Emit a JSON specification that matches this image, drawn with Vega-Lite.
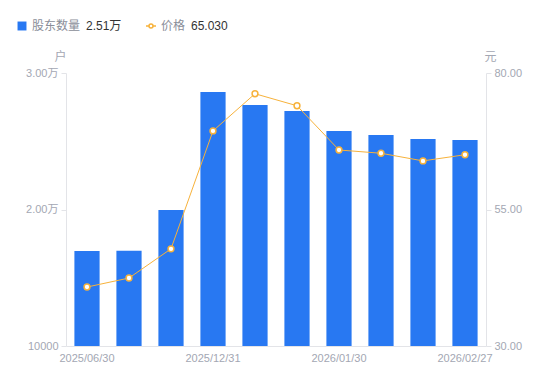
{
  "$schema": "https://vega.github.io/schema/vega-lite/v6.json",
  "autosize": {"type": "none"},
  "padding": {"left": 66, "top": 73, "right": 64, "bottom": 35},
  "width": 420,
  "height": 273,
  "config": {
    "font": "'Liberation Sans', 'Noto Sans CJK SC', sans-serif",
    "view": {"stroke": null},
    "axis": {
      "labelColor": "#a3a7b3",
      "labelFontSize": 11,
      "domainColor": "#e3e4e8",
      "tickColor": "#e3e4e8",
      "grid": false,
      "titleColor": "#a3a7b3",
      "titleFontWeight": "normal",
      "titleFontSize": 12
    }
  },
  "data": {
    "values": [
      {"date": "2025/06/30", "holders": 16960, "price": 40.8},
      {"date": "2025/09/30", "holders": 16970, "price": 42.45},
      {"date": "2025/12/10", "holders": 19960, "price": 47.8},
      {"date": "2025/12/31", "holders": 28600, "price": 69.4},
      {"date": "2026/01/09", "holders": 27660, "price": 76.2},
      {"date": "2026/01/20", "holders": 27220, "price": 74.0},
      {"date": "2026/01/30", "holders": 25750, "price": 65.9},
      {"date": "2026/02/10", "holders": 25460, "price": 65.3},
      {"date": "2026/02/20", "holders": 25170, "price": 63.9},
      {"date": "2026/02/27", "holders": 25100, "price": 65.03}
    ]
  },
  "encoding": {
    "x": {
      "field": "date",
      "type": "nominal",
      "sort": null,
      "scale": {"paddingInner": 0.4, "paddingOuter": 0.2},
      "axis": {
        "title": null,
        "labelAngle": 0,
        "ticks": false,
        "labelPadding": 6,
        "values": ["2025/06/30", "2025/12/31", "2026/01/30", "2026/02/27"]
      }
    }
  },
  "layer": [
    {
      "mark": {"type": "bar", "color": "#2878f2"},
      "encoding": {
        "y": {
          "field": "holders",
          "type": "quantitative",
          "scale": {"domain": [10000, 30000], "nice": false, "zero": false},
          "axis": {
            "orient": "left",
            "values": [10000, 20000, 30000],
            "labelExpr": "datum.value >= 20000 ? format(datum.value / 10000, '.2f') + '万' : datum.value",
            "tickSize": 5,
            "labelPadding": 3,
            "title": "户",
            "titleAngle": 0,
            "titleX": -6,
            "titleY": -10,
            "titleAlign": "center",
            "titleBaseline": "bottom"
          }
        },
        "y2": {"datum": 10000},
        "color": {
          "datum": "股东数量",
          "scale": {"range": ["#2878f2"]},
          "legend": {
            "orient": "none",
            "legendX": -50,
            "legendY": -53,
            "symbolType": "square",
            "symbolSize": 80,
            "symbolStrokeWidth": 0,
            "labelColor": "#8a8e99",
            "labelFontSize": 12,
            "title": "2.51万",
            "titleOrient": "right",
            "titleColor": "#333333",
            "titleFontSize": 12,
            "titleFontWeight": "normal",
            "titlePadding": 6,
            "titleBaseline": "middle"
          }
        }
      }
    },
    {
      "mark": {"type": "line", "strokeWidth": 1},
      "encoding": {
        "y": {
          "field": "price",
          "type": "quantitative",
          "scale": {"domain": [30, 80], "nice": false, "zero": false},
          "axis": {
            "orient": "right",
            "values": [30, 55, 80],
            "format": ".2f",
            "tickSize": 5,
            "labelPadding": 3,
            "title": "元",
            "titleAngle": 0,
            "titleX": 4,
            "titleY": -10,
            "titleAlign": "center",
            "titleBaseline": "bottom"
          }
        },
        "stroke": {
          "datum": "价格",
          "scale": {"range": ["#f7b23b"]},
          "legend": {
            "orient": "none",
            "legendX": 79,
            "legendY": -53,
            "symbolType": "M-1,0L-0.4,0M0.4,0L1,0M0.4,0A0.4,0.4 0 1,1 -0.4,0A0.4,0.4 0 1,1 0.4,0Z",
            "symbolSize": 100,
            "symbolStrokeWidth": 1.5,
            "symbolFillColor": "white",
            "labelColor": "#8a8e99",
            "labelFontSize": 12,
            "title": "65.030",
            "titleOrient": "right",
            "titleColor": "#333333",
            "titleFontSize": 12,
            "titleFontWeight": "normal",
            "titlePadding": 6,
            "titleBaseline": "middle"
          }
        }
      }
    },
    {
      "mark": {"type": "point", "filled": true, "fill": "white", "stroke": "#f7b23b", "strokeWidth": 1.5, "size": 34, "opacity": 1},
      "encoding": {
        "y": {"field": "price", "type": "quantitative", "scale": {"domain": [30, 80], "nice": false, "zero": false}, "axis": null}
      }
    }
  ],
  "resolve": {"scale": {"y": "independent"}}
}
